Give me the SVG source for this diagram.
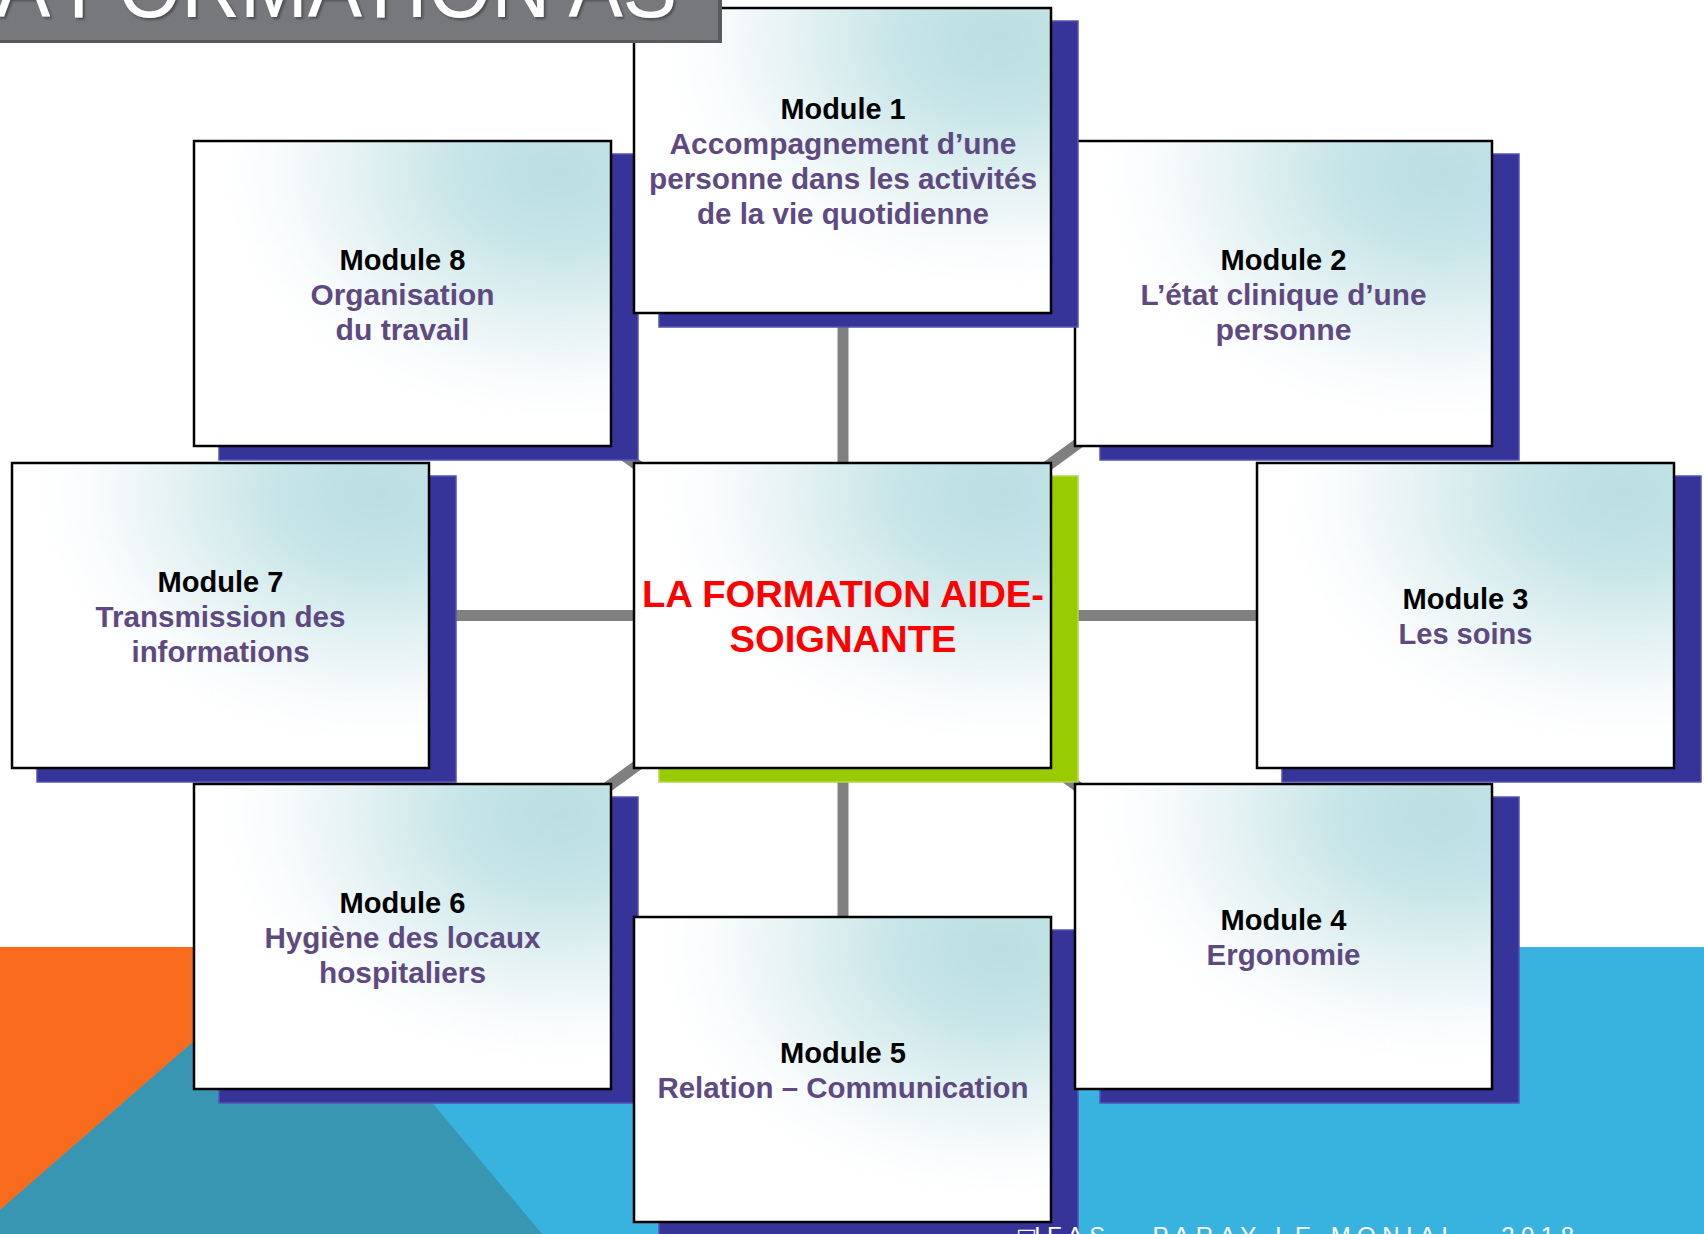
<svg xmlns="http://www.w3.org/2000/svg" width="1704" height="1234" viewBox="0 0 1704 1234">
  <defs>
    <radialGradient id="boxFill" cx="0.88" cy="0.1" r="0.82" fx="0.88" fy="0.1">
      <stop offset="0" stop-color="#BADEE1"/>
      <stop offset="0.3" stop-color="#C7E5E8"/>
      <stop offset="0.6" stop-color="#E5F2F3"/>
      <stop offset="0.85" stop-color="#FAFCFD"/>
      <stop offset="1" stop-color="#FFFFFF"/>
    </radialGradient>
    <filter id="txtShadow" x="-5%" y="-20%" width="110%" height="140%">
      <feDropShadow dx="2" dy="2" stdDeviation="1" flood-color="#2a2a2a" flood-opacity="0.55"/>
    </filter>
    <style>
      .shadow { fill:#363399; stroke:#5553B5; stroke-width:1.5; }
      .shadow-c { fill:#99CC00; stroke:#B2D94C; stroke-width:1.5; }
      .box { fill:url(#boxFill); stroke:#000000; stroke-width:2.5; }
      .conn { stroke:#808080; stroke-width:11; fill:none; }
      .t { font-family:"Liberation Sans", Arial, sans-serif; font-weight:bold; font-size:29px; text-anchor:middle; }
      .head { fill:#000000; }
      .sub { fill:#5E4A80; }
      .ctr { fill:#FF0000; font-size:37px; }
      .title { font-family:"Liberation Sans", Arial, sans-serif; font-size:88px; fill:#FFFFFF; }
      .footer { font-family:"Liberation Sans", Arial, sans-serif; font-size:24px; fill:#FFFFFF; }
    </style>
  </defs>

  <!-- background -->
  <g id="background">
    <rect x="0" y="0" width="1704" height="1234" fill="#FFFFFF"/>
    <rect x="0" y="947" width="1704" height="287" fill="#38B3DF"/>
    <polygon points="0,947 302,947 0,1210" fill="#F86B1D"/>
    <polygon points="302,947 542,1234 0,1234 0,1210" fill="#3896B3"/>
  </g>

  <!-- connectors -->
  <g id="connectors">
    <line class="conn" x1="843" y1="615.5" x2="843" y2="160"/>
    <line class="conn" x1="843" y1="615.5" x2="1283.5" y2="293.5"/>
    <line class="conn" x1="843" y1="615.5" x2="1465.5" y2="615.5"/>
    <line class="conn" x1="843" y1="615.5" x2="1283.5" y2="936.5"/>
    <line class="conn" x1="843" y1="615.5" x2="843" y2="1069"/>
    <line class="conn" x1="843" y1="615.5" x2="402.5" y2="936.5"/>
    <line class="conn" x1="843" y1="615.5" x2="220.5" y2="615.5"/>
    <line class="conn" x1="843" y1="615.5" x2="402.5" y2="293.5"/>
  </g>

  <g id="center">
    <rect class="shadow-c" x="659" y="476" width="419" height="306"/>
    <rect class="box" x="634" y="463" width="417" height="305"/>
    <text class="t ctr" x="843" y="607" textLength="402" lengthAdjust="spacingAndGlyphs">LA FORMATION AIDE-</text>
    <text class="t ctr" x="843" y="652" textLength="227" lengthAdjust="spacingAndGlyphs">SOIGNANTE</text>
  </g>

  <g id="module8">
    <rect class="shadow" x="219" y="154" width="419" height="306"/>
    <rect class="box" x="194" y="141" width="417" height="305"/>
    <text class="t head" x="402.5" y="270" textLength="126" lengthAdjust="spacingAndGlyphs">Module 8</text>
    <text class="t sub" x="402.5" y="305" textLength="184" lengthAdjust="spacingAndGlyphs">Organisation</text>
    <text class="t sub" x="402.5" y="340" textLength="134" lengthAdjust="spacingAndGlyphs">du travail</text>
  </g>

  <g id="module7">
    <rect class="shadow" x="37" y="476" width="419" height="306"/>
    <rect class="box" x="12" y="463" width="417" height="305"/>
    <text class="t head" x="220.5" y="592" textLength="126" lengthAdjust="spacingAndGlyphs">Module 7</text>
    <text class="t sub" x="220.5" y="627" textLength="250" lengthAdjust="spacingAndGlyphs">Transmission des</text>
    <text class="t sub" x="220.5" y="662" textLength="178" lengthAdjust="spacingAndGlyphs">informations</text>
  </g>

  <g id="module6">
    <rect class="shadow" x="219" y="797" width="419" height="306"/>
    <rect class="box" x="194" y="784" width="417" height="305"/>
    <text class="t head" x="402.5" y="913" textLength="126" lengthAdjust="spacingAndGlyphs">Module 6</text>
    <text class="t sub" x="402.5" y="948" textLength="276" lengthAdjust="spacingAndGlyphs">Hygiène des locaux</text>
    <text class="t sub" x="402.5" y="983" textLength="167" lengthAdjust="spacingAndGlyphs">hospitaliers</text>
  </g>

  <g id="module5">
    <rect class="shadow" x="659" y="930" width="419" height="306"/>
    <rect class="box" x="634" y="917" width="417" height="305"/>
    <text class="t head" x="843" y="1063" textLength="126" lengthAdjust="spacingAndGlyphs">Module 5</text>
    <text class="t sub" x="843" y="1098" textLength="371" lengthAdjust="spacingAndGlyphs">Relation – Communication</text>
  </g>

  <g id="module4">
    <rect class="shadow" x="1100" y="797" width="419" height="306"/>
    <rect class="box" x="1075" y="784" width="417" height="305"/>
    <text class="t head" x="1283.5" y="930" textLength="126" lengthAdjust="spacingAndGlyphs">Module 4</text>
    <text class="t sub" x="1283.5" y="965" textLength="154" lengthAdjust="spacingAndGlyphs">Ergonomie</text>
  </g>

  <g id="module3">
    <rect class="shadow" x="1282" y="476" width="419" height="306"/>
    <rect class="box" x="1257" y="463" width="417" height="305"/>
    <text class="t head" x="1465.5" y="609" textLength="126" lengthAdjust="spacingAndGlyphs">Module 3</text>
    <text class="t sub" x="1465.5" y="644" textLength="134" lengthAdjust="spacingAndGlyphs">Les soins</text>
  </g>

  <g id="module2">
    <rect class="shadow" x="1100" y="154" width="419" height="306"/>
    <rect class="box" x="1075" y="141" width="417" height="305"/>
    <text class="t head" x="1283.5" y="270" textLength="126" lengthAdjust="spacingAndGlyphs">Module 2</text>
    <text class="t sub" x="1283.5" y="305" textLength="286" lengthAdjust="spacingAndGlyphs">L’état clinique d’une</text>
    <text class="t sub" x="1283.5" y="340" textLength="136" lengthAdjust="spacingAndGlyphs">personne</text>
  </g>

  <g id="module1">
    <rect class="shadow" x="659" y="21" width="419" height="306"/>
    <rect class="box" x="634" y="8" width="417" height="305"/>
    <text class="t head" x="843" y="119" textLength="125" lengthAdjust="spacingAndGlyphs">Module 1</text>
    <text class="t sub" x="843" y="154" textLength="347" lengthAdjust="spacingAndGlyphs">Accompagnement d’une</text>
    <text class="t sub" x="843" y="189" textLength="388" lengthAdjust="spacingAndGlyphs">personne dans les activités</text>
    <text class="t sub" x="843" y="224" textLength="292" lengthAdjust="spacingAndGlyphs">de la vie quotidienne</text>
  </g>

  <!-- slide title bar (partly outside the picture) -->
  <g id="title">
    <rect x="-5" y="-5" width="727" height="48" fill="#595A5D"/>
    <rect x="-5" y="-5" width="723" height="45" fill="#77787B"/>
    <text class="title" x="-4" y="17" textLength="681" lengthAdjust="spacingAndGlyphs" filter="url(#txtShadow)">A FORMATION AS</text>
  </g>

  <!-- footer (partly outside the picture) -->
  <g id="footer">
    <text x="1016" y="1244" font-family="DejaVu Sans, sans-serif" font-size="22" fill="#FFFFFF">□</text>
    <text class="footer" x="1034" y="1244" textLength="540" lengthAdjust="spacing">IFAS - PARAY LE MONIAL - 2018</text>
  </g>
</svg>
